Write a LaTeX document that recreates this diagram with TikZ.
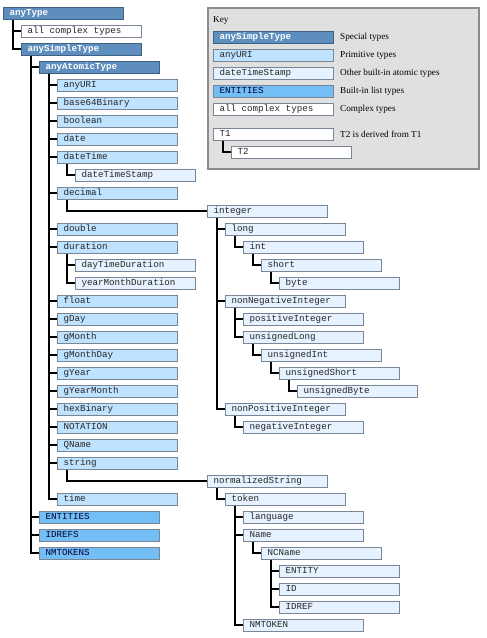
\documentclass[tikz,border=0pt]{standalone}
\usepackage{fontspec}
\setmainfont{Liberation Serif}
\setmonofont{Liberation Mono}
\usetikzlibrary{calc}
\definecolor{specfill}{HTML}{5D8EBE}
\definecolor{specdraw}{HTML}{3F6284}
\definecolor{primfill}{HTML}{BFE2FF}
\definecolor{otherfill}{HTML}{E6F2FF}
\definecolor{listfill}{HTML}{72BEF5}
\definecolor{boxdraw}{HTML}{7A8694}
\definecolor{keyfill}{HTML}{E0E0E0}
\definecolor{keydraw}{HTML}{8C8C8C}
\newcommand\msp{\hspace*{0.6em}}
\begin{document}
\begin{tikzpicture}[x=1pt,y=-1pt,
  tb/.style={anchor=west, draw=boxdraw, line width=1pt, text width=108pt, align=left,
    inner xsep=6pt, inner ysep=0pt, minimum height=12pt, text height=7pt, text depth=2pt,
    font=\ttfamily\fontsize{9.2}{11}\selectfont, text=black!85},
  spec/.style={tb, fill=specfill, draw=specdraw, text=white, font=\ttfamily\bfseries\fontsize{9.2}{11}\selectfont},
  prim/.style={tb, fill=primfill},
  other/.style={tb, fill=otherfill},
  lst/.style={tb, fill=listfill, text=black!80!blue},
  cplx/.style={tb, fill=white},
  conn/.style={line width=1.2pt, black},
  keylbl/.style={anchor=west, inner sep=0pt, font=\rmfamily\fontsize{9.2}{11}\selectfont}]
\useasboundingbox (0,0) rectangle (487,638);
% key
\node[draw=keydraw, fill=keyfill, line width=1.5pt, minimum width=271pt, minimum height=161pt, anchor=north west, inner sep=0pt] (keybox) at (207,7) {};
\node[keylbl] (keytitle) at (213,20) {Key};
\node[spec] (kspec) at (213,37) {anySimpleType};
\node[keylbl] (kspecl) at (340,37) {Special types};
\node[prim] (kprim) at (213,55) {anyURI};
\node[keylbl] (kpriml) at (340,55) {Primitive types};
\node[other] (koth) at (213,73) {dateTimeStamp};
\node[keylbl] (kothl) at (340,73) {Other built-in atomic types};
\node[lst] (klst) at (213,91) {ENTITIES};
\node[keylbl] (klstl) at (340,91) {Built-in list types};
\node[cplx] (kcpx) at (213,109) {all\msp complex\msp types};
\node[keylbl] (kcpxl) at (340,109) {Complex types};
\node[cplx] (kT1) at (213,134) {T1};
\node[keylbl] (kT1l) at (340,134) {T2 is derived from T1};
\node[cplx] (kT2) at (231,152) {T2};
% tree
\node[spec] (anyType) at (3,13) {anyType};
\node[cplx] (allcomplex) at (21,31) {all\msp complex\msp types};
\node[spec] (anySimpleType) at (21,49) {anySimpleType};
\node[spec] (anyAtomicType) at (39,67) {anyAtomicType};
\node[prim] (anyURI) at (57,85) {anyURI};
\node[prim] (base64Binary) at (57,103) {base64Binary};
\node[prim] (boolean) at (57,121) {boolean};
\node[prim] (date) at (57,139) {date};
\node[prim] (dateTime) at (57,157) {dateTime};
\node[other] (dateTimeStamp) at (75,175) {dateTimeStamp};
\node[prim] (decimal) at (57,193) {decimal};
\node[other] (integer) at (207,211) {integer};
\node[prim] (double) at (57,229) {double};
\node[prim] (duration) at (57,247) {duration};
\node[other] (dayTimeDuration) at (75,265) {dayTimeDuration};
\node[other] (yearMonthDuration) at (75,283) {yearMonthDuration};
\node[prim] (float) at (57,301) {float};
\node[prim] (gDay) at (57,319) {gDay};
\node[prim] (gMonth) at (57,337) {gMonth};
\node[prim] (gMonthDay) at (57,355) {gMonthDay};
\node[prim] (gYear) at (57,373) {gYear};
\node[prim] (gYearMonth) at (57,391) {gYearMonth};
\node[prim] (hexBinary) at (57,409) {hexBinary};
\node[prim] (NOTATION) at (57,427) {NOTATION};
\node[prim] (QName) at (57,445) {QName};
\node[prim] (string) at (57,463) {string};
\node[other] (normalizedString) at (207,481) {normalizedString};
\node[prim] (time) at (57,499) {time};
\node[lst] (ENTITIES) at (39,517) {ENTITIES};
\node[lst] (IDREFS) at (39,535) {IDREFS};
\node[lst] (NMTOKENS) at (39,553) {NMTOKENS};
% integer subtree
\node[other] (long) at (225,229) {long};
\node[other] (int) at (243,247) {int};
\node[other] (short) at (261,265) {short};
\node[other] (byte) at (279,283) {byte};
\node[other] (nonNegativeInteger) at (225,301) {nonNegativeInteger};
\node[other] (positiveInteger) at (243,319) {positiveInteger};
\node[other] (unsignedLong) at (243,337) {unsignedLong};
\node[other] (unsignedInt) at (261,355) {unsignedInt};
\node[other] (unsignedShort) at (279,373) {unsignedShort};
\node[other] (unsignedByte) at (297,391) {unsignedByte};
\node[other] (nonPositiveInteger) at (225,409) {nonPositiveInteger};
\node[other] (negativeInteger) at (243,427) {negativeInteger};
% string subtree
\node[other] (token) at (225,499) {token};
\node[other] (language) at (243,517) {language};
\node[other] (Name) at (243,535) {Name};
\node[other] (NCName) at (261,553) {NCName};
\node[other] (ENTITY) at (279,571) {ENTITY};
\node[other] (ID) at (279,589) {ID};
\node[other] (IDREF) at (279,607) {IDREF};
\node[other] (NMTOKEN) at (243,625) {NMTOKEN};
% connectors
\foreach \p/\c in {kT1/kT2, anyType/allcomplex, anyType/anySimpleType,
  anySimpleType/anyAtomicType, anySimpleType/ENTITIES, anySimpleType/IDREFS, anySimpleType/NMTOKENS,
  anyAtomicType/anyURI, anyAtomicType/base64Binary, anyAtomicType/boolean, anyAtomicType/date,
  anyAtomicType/dateTime, anyAtomicType/decimal, anyAtomicType/double, anyAtomicType/duration,
  anyAtomicType/float, anyAtomicType/gDay, anyAtomicType/gMonth, anyAtomicType/gMonthDay,
  anyAtomicType/gYear, anyAtomicType/gYearMonth, anyAtomicType/hexBinary, anyAtomicType/NOTATION,
  anyAtomicType/QName, anyAtomicType/string, anyAtomicType/time,
  dateTime/dateTimeStamp, decimal/integer, duration/dayTimeDuration, duration/yearMonthDuration,
  integer/long, integer/nonNegativeInteger, integer/nonPositiveInteger,
  long/int, int/short, short/byte,
  nonNegativeInteger/positiveInteger, nonNegativeInteger/unsignedLong,
  unsignedLong/unsignedInt, unsignedInt/unsignedShort, unsignedShort/unsignedByte,
  nonPositiveInteger/negativeInteger,
  string/normalizedString, normalizedString/token,
  token/language, token/Name, token/NMTOKEN,
  Name/NCName, NCName/ENTITY, NCName/ID, NCName/IDREF}
  \draw[conn] ($(\p.south west)+(10,0)$) |- (\c.west);
\end{tikzpicture}
\end{document}
